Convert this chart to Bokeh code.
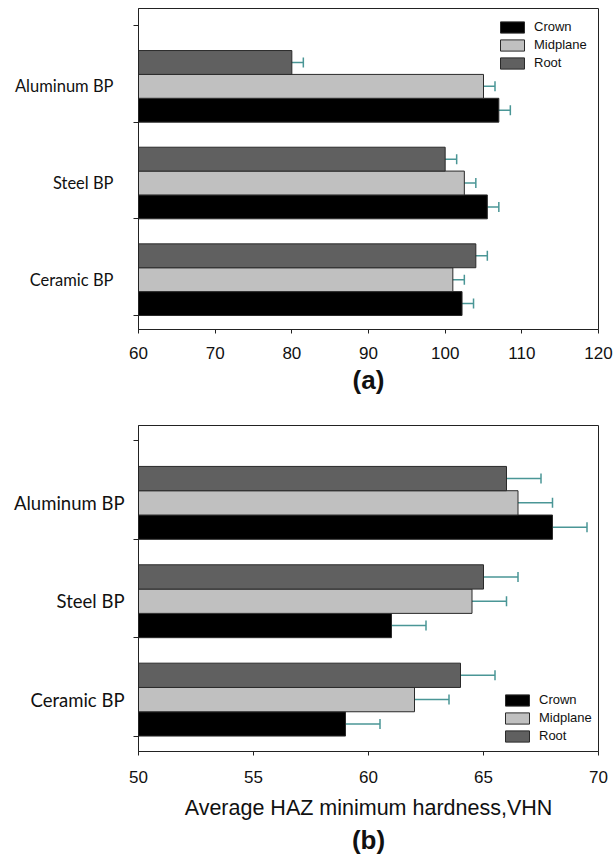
from bokeh.plotting import figure
from bokeh.models import (ColumnDataSource, Whisker, TeeHead, Legend, LegendItem,
                          FixedTicker, Range1d, Title)
from bokeh.layouts import column
from bokeh.embed import file_html
from bokeh.resources import INLINE

# Categories from bottom to top of each panel
categories = ["Ceramic BP", "Steel BP", "Aluminum BP"]
series = ["Crown", "Midplane", "Root"]

# Panel (a) values
a_crown = [102.2, 105.5, 107.0]
a_midplane = [101.0, 102.5, 105.0]
a_root = [104.0, 100.0, 80.0]
a_crown_err = [1.5, 1.5, 1.5]
a_midplane_err = [1.5, 1.5, 1.5]
a_root_err = [1.5, 1.5, 1.5]
a_ticks = [60, 70, 80, 90, 100, 110, 120]

# Panel (b) values: average HAZ minimum hardness, VHN
b_crown = [59.0, 61.0, 68.0]
b_midplane = [62.0, 64.5, 66.5]
b_root = [64.0, 65.0, 66.0]
b_crown_err = [1.5, 1.5, 1.5]
b_midplane_err = [1.5, 1.5, 1.5]
b_root_err = [1.5, 1.5, 1.5]
b_ticks = [50, 55, 60, 65, 70]
b_xlabel = "Average HAZ minimum hardness,VHN"

FILLS = {"Crown": "#000000", "Midplane": "#c0c0c0", "Root": "#606060"}
ERR_COLOR = "#4a9696"
BAR_H = 0.247
BAND_LOW = -0.37  # band bottom relative to category label position


def panel(height, x_lo, x_hi, ticks, vals, errs, borders, y_pad, legend_xy,
          cat_font, cat_standoff, tick_standoff, tag, tag_standoff, xlabel=None):
    bl, br, bt, bb = borders
    p = figure(width=614, height=height, output_backend="svg", toolbar_location=None,
               x_range=Range1d(x_lo, x_hi),
               y_range=Range1d(BAND_LOW - y_pad[0], BAND_LOW + 3 + y_pad[1]),
               min_border_left=bl, min_border_right=br,
               min_border_top=bt, min_border_bottom=bb)
    p.xgrid.visible = False
    p.ygrid.visible = False
    p.outline_line_color = "#222222"
    p.outline_line_width = 1
    p.background_fill_color = "white"
    p.border_fill_color = "white"

    idx = list(range(len(categories)))
    renderers = {}
    for j, name in enumerate(series):
        ys = [k + BAND_LOW + BAR_H * (j + 0.5) for k in idx]
        src = ColumnDataSource(dict(y=ys, right=vals[name], left=[x_lo] * 3))
        r = p.hbar(y="y", left="left", right="right", height=BAR_H, source=src,
                   fill_color=FILLS[name], line_color="#2a2a2a", line_width=1)
        renderers[name] = r
    for j, name in enumerate(series):
        ys = [k + BAND_LOW + BAR_H * (j + 0.5) for k in idx]
        lo = [v - e for v, e in zip(vals[name], errs[name])]
        hi = [v + e for v, e in zip(vals[name], errs[name])]
        esrc = ColumnDataSource(dict(base=ys, lower=lo, upper=hi))
        w = Whisker(source=esrc, base="base", lower="lower", upper="upper",
                    dimension="width", line_color=ERR_COLOR, line_width=1.5,
                    upper_head=TeeHead(size=10, line_color=ERR_COLOR, line_width=1.5),
                    lower_head=TeeHead(size=10, line_color=ERR_COLOR, line_width=1.5))
        p.add_layout(w)

    xa = p.xaxis[0]
    xa.ticker = FixedTicker(ticks=ticks)
    xa.axis_line_color = "#222222"
    xa.major_tick_out = 4
    xa.major_tick_in = 0
    xa.minor_tick_out = 0
    xa.minor_tick_in = 0
    xa.major_tick_line_color = "#222222"
    xa.major_label_text_font = "Liberation Sans"
    xa.major_label_text_font_size = "17px"
    xa.major_label_text_color = "#111111"
    xa.major_label_standoff = tick_standoff
    if xlabel is not None:
        xa.axis_label = xlabel
        xa.axis_label_text_font = "Liberation Sans"
        xa.axis_label_text_font_size = "21.5px"
        xa.axis_label_text_font_style = "normal"
        xa.axis_label_text_color = "#111111"
        xa.axis_label_standoff = 10

    ya = p.yaxis[0]
    ya.ticker = FixedTicker(ticks=idx, minor_ticks=[BAND_LOW + k for k in range(4)])
    ya.major_label_overrides = {k: c for k, c in zip(idx, categories)}
    ya.axis_line_color = "#222222"
    ya.major_tick_out = 0
    ya.major_tick_in = 0
    ya.minor_tick_out = 5
    ya.minor_tick_in = 0
    ya.minor_tick_line_color = "#222222"
    ya.major_label_text_font = "Lato"
    ya.major_label_text_font_size = cat_font
    ya.major_label_text_color = "#111111"
    ya.major_label_standoff = cat_standoff

    legend = Legend(items=[LegendItem(label=n, renderers=[renderers[n]]) for n in series],
                    location=legend_xy, padding=0, margin=0, spacing=3,
                    glyph_width=30, glyph_height=14, label_height=14,
                    label_standoff=7, label_text_font="Liberation Sans",
                    label_text_font_size="13px", label_text_color="#111111",
                    border_line_alpha=0, background_fill_color="white",
                    background_fill_alpha=1.0)
    p.add_layout(legend)

    p.add_layout(Title(text=tag, align="center", text_font="Liberation Sans",
                       text_font_size="26px", text_font_style="bold",
                       text_color="#111111", standoff=tag_standoff), "below")
    return p


pa = panel(400, 60, 120, a_ticks,
           {"Crown": a_crown, "Midplane": a_midplane, "Root": a_root},
           {"Crown": a_crown_err, "Midplane": a_midplane_err, "Root": a_root_err},
           (138, 16, 8, 71), (0.145, 0.176), (359, 259),
           "16.5px", 20, 13, "(a)", 3)

pb = panel(454, 50, 70, b_ticks,
           {"Crown": b_crown, "Midplane": b_midplane, "Root": b_root},
           {"Crown": b_crown_err, "Midplane": b_midplane_err, "Root": b_root_err},
           (138, 10, 25, 102), (0.157, 0.157), (364, 8),
           "18.5px", 9, 15, "(b)", 0, xlabel=b_xlabel)

layout = column(pa, pb, spacing=0)
open("out.html", "w").write(file_html(layout, INLINE))
